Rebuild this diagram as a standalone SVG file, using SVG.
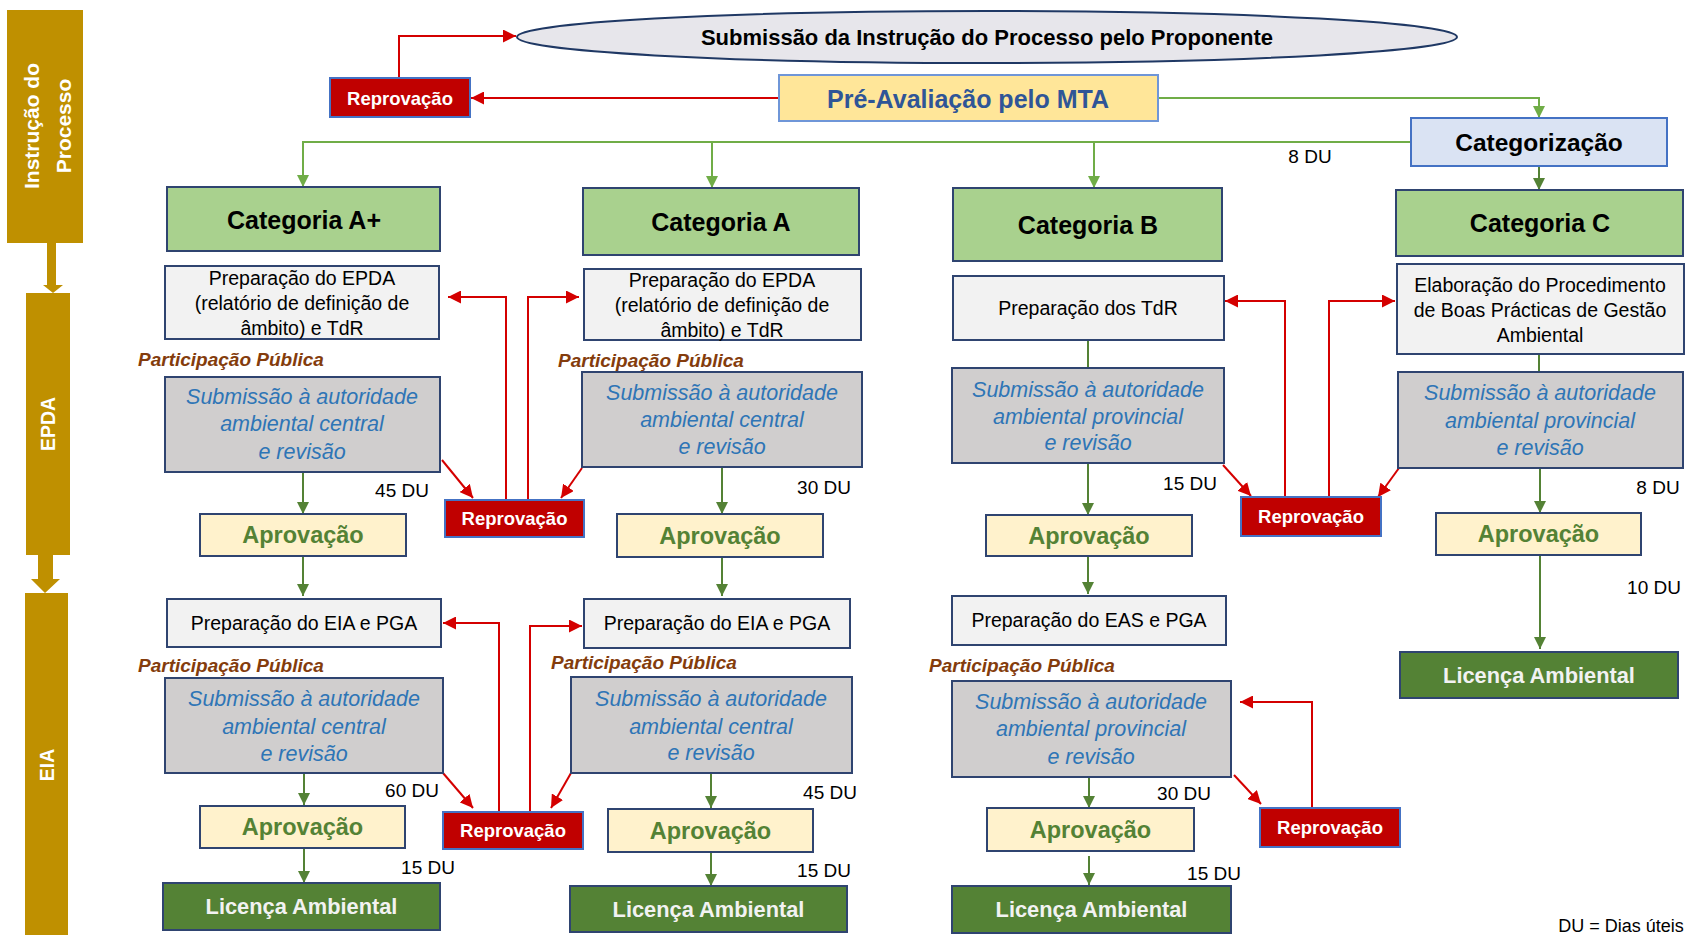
<svg xmlns="http://www.w3.org/2000/svg" width="1686" height="935" viewBox="0 0 1686 935">
<defs>
<style>
text{font-family:"Liberation Sans",Arial,sans-serif;text-anchor:middle;dominant-baseline:central}
.bar{fill:#bf9000}
.bart{fill:#fff;font-weight:bold}
.cat{fill:#a9d18e;stroke:#2f4470;stroke-width:2}
.catt{font-size:25px;font-weight:bold;fill:#000}
.prep{fill:#f2f2f2;stroke:#2f4470;stroke-width:2}
.prept{font-size:19.5px;fill:#000}
.sub{fill:#d0cece;stroke:#2f4470;stroke-width:2}
.subt{font-size:21.5px;font-style:italic;fill:#2e75b6}
.apr{fill:#fff2cc;stroke:#2f4470;stroke-width:2}
.aprt{font-size:23.5px;font-weight:bold;fill:#548235}
.rep{fill:#c00000;stroke:#4472c4;stroke-width:2}
.rept{font-size:18.5px;font-weight:bold;fill:#fff}
.lic{fill:#548235;stroke:#2f4470;stroke-width:2}
.lict{font-size:21.8px;font-weight:bold;fill:#f2f2f2}
.pp{font-size:19px;font-weight:bold;font-style:italic;fill:#843c0c;text-anchor:start}
.du{font-size:19px;fill:#000}
.g{fill:none;stroke:#548235;stroke-width:2}
.gl{fill:none;stroke:#70ad47;stroke-width:2}
.r{fill:none;stroke:#d40000;stroke-width:2}
</style>
<marker id="ag" viewBox="0 0 10 10" refX="10" refY="5" markerWidth="12" markerHeight="12" markerUnits="userSpaceOnUse" orient="auto"><path d="M0,0 L10,5 L0,10 z" fill="#548235"/></marker>
<marker id="agl" viewBox="0 0 10 10" refX="10" refY="5" markerWidth="12" markerHeight="12" markerUnits="userSpaceOnUse" orient="auto"><path d="M0,0 L10,5 L0,10 z" fill="#70ad47"/></marker>
<marker id="ar" viewBox="0 0 10 10" refX="10" refY="5" markerWidth="13" markerHeight="13" markerUnits="userSpaceOnUse" orient="auto"><path d="M0,0 L10,5 L0,10 z" fill="#d40000"/></marker>
</defs>
<rect width="1686" height="935" fill="#fff"/>

<g id="phase-bars">
<rect class="bar" x="7" y="10" width="76" height="233"/>
<text class="bart" font-size="21" transform="rotate(-90 46 126)"><tspan x="46" y="111">Instrução do</tspan><tspan x="46" y="143">Processo</tspan></text>
<polygon class="bar" points="47,243 56,243 56,285 63,285 53,293 43,285 47,285"/>
<rect class="bar" x="26" y="293" width="44" height="262"/>
<text class="bart" font-size="19.5" transform="rotate(-90 48 424)" x="48" y="424">EPDA</text>
<polygon class="bar" points="38,555 53,555 53,579 60,579 45,593 31,579 38,579"/>
<rect class="bar" x="25" y="593" width="43" height="342"/>
<text class="bart" font-size="19.5" transform="rotate(-90 46.5 765)" x="46.5" y="765">EIA</text>
</g>

<g id="connectors">
<path class="r" d="M399,78 V36 H516" marker-end="url(#ar)"/>
<path class="r" d="M779,98 H471" marker-end="url(#ar)"/>
<path class="gl" d="M1158,98 H1539 V118" marker-end="url(#agl)"/>
<path class="gl" d="M1411,142 H303 V187" marker-end="url(#agl)"/>
<path class="gl" d="M712,142 V188" marker-end="url(#agl)"/>
<path class="gl" d="M1094,142 V188" marker-end="url(#agl)"/>
<path class="g" d="M1539,166 V190" marker-end="url(#ag)"/>
<!-- EPDA column flows -->
<path class="g" d="M303,472 V514" marker-end="url(#ag)"/>
<path class="g" d="M722,467 V514" marker-end="url(#ag)"/>
<path class="g" d="M1088,340 V368"/>
<path class="g" d="M1088,463 V515" marker-end="url(#ag)"/>
<path class="g" d="M1539,354 V372"/>
<path class="g" d="M1540,468 V513" marker-end="url(#ag)"/>
<path class="g" d="M303,556 V596" marker-end="url(#ag)"/>
<path class="g" d="M722,557 V596" marker-end="url(#ag)"/>
<path class="g" d="M1088,556 V594" marker-end="url(#ag)"/>
<path class="g" d="M1540,555 V649" marker-end="url(#ag)"/>
<!-- EPDA rejections -->
<path class="r" d="M442,460 L473,498" marker-end="url(#ar)"/>
<path class="r" d="M582,468 L561,498" marker-end="url(#ar)"/>
<path class="r" d="M506,500 V297 H448" marker-end="url(#ar)"/>
<path class="r" d="M528,500 V297 H579" marker-end="url(#ar)"/>
<path class="r" d="M1223,465 L1251,496" marker-end="url(#ar)"/>
<path class="r" d="M1399,468 L1378,497" marker-end="url(#ar)"/>
<path class="r" d="M1285,497 V301 H1225" marker-end="url(#ar)"/>
<path class="r" d="M1329,497 V301 H1395" marker-end="url(#ar)"/>
<!-- EIA column flows -->
<path class="g" d="M304,773 V805" marker-end="url(#ag)"/>
<path class="g" d="M711,773 V808" marker-end="url(#ag)"/>
<path class="g" d="M1089,777 V808" marker-end="url(#ag)"/>
<path class="g" d="M304,848 V883" marker-end="url(#ag)"/>
<path class="g" d="M711,852 V886" marker-end="url(#ag)"/>
<path class="g" d="M1089,856 V885" marker-end="url(#ag)"/>
<!-- EIA rejections -->
<path class="r" d="M443,773 L473,808" marker-end="url(#ar)"/>
<path class="r" d="M571,773 L551,808" marker-end="url(#ar)"/>
<path class="r" d="M499,812 V623 H443" marker-end="url(#ar)"/>
<path class="r" d="M530,812 V626 H582" marker-end="url(#ar)"/>
<path class="r" d="M1234,775 L1261,804" marker-end="url(#ar)"/>
<path class="r" d="M1312,808 V702 H1240" marker-end="url(#ar)"/>
</g>

<g id="submissao">
<ellipse cx="987" cy="37" rx="470" ry="26" fill="#e7e6eb" stroke="#1f3864" stroke-width="2"/>
<text x="987" y="37" font-size="22" font-weight="bold">Submissão da Instrução do Processo pelo Proponente</text>
</g>
<g id="reprovacao-top"><rect class="rep" x="330" y="78" width="140" height="39"/><text class="rept" x="400" y="98">Reprovação</text></g>
<g id="pre-avaliacao"><rect x="779" y="75" width="379" height="46" fill="#ffe699" stroke="#6f96d8" stroke-width="2"/><text x="968" y="99" font-size="25" font-weight="bold" fill="#2f5597">Pré-Avaliação pelo MTA</text></g>
<g id="categorizacao"><rect x="1411" y="118" width="256" height="48" fill="#dae3f3" stroke="#4472c4" stroke-width="2"/><text x="1539" y="142" font-size="24.5" font-weight="bold" fill="#000">Categorização</text></g>
<text class="du" x="1310" y="156">8 DU</text>

<g id="cat-aplus"><rect class="cat" x="167" y="187" width="273" height="64"/><text class="catt" x="304" y="220">Categoria A+</text></g>
<g id="cat-a"><rect class="cat" x="583" y="188" width="276" height="67"/><text class="catt" x="721" y="222">Categoria A</text></g>
<g id="cat-b"><rect class="cat" x="953" y="188" width="269" height="73"/><text class="catt" x="1088" y="225">Categoria B</text></g>
<g id="cat-c"><rect class="cat" x="1396" y="190" width="287" height="66"/><text class="catt" x="1540" y="223">Categoria C</text></g>

<g id="prep-epda-aplus"><rect class="prep" x="165" y="266" width="274" height="73"/><text class="prept"><tspan x="302" y="278">Preparação do EPDA</tspan><tspan x="302" y="303">(relatório de definição de</tspan><tspan x="302" y="328">âmbito) e TdR</tspan></text></g>
<g id="prep-epda-a"><rect class="prep" x="584" y="269" width="277" height="71"/><text class="prept"><tspan x="722" y="280">Preparação do EPDA</tspan><tspan x="722" y="305">(relatório de definição de</tspan><tspan x="722" y="330">âmbito) e TdR</tspan></text></g>
<g id="prep-tdr-b"><rect class="prep" x="953" y="276" width="271" height="64"/><text class="prept" x="1088" y="308">Preparação dos TdR</text></g>
<g id="prep-c"><rect class="prep" x="1397" y="264" width="287" height="90"/><text class="prept"><tspan x="1540" y="285">Elaboração do Procedimento</tspan><tspan x="1540" y="310">de Boas Prácticas de Gestão</tspan><tspan x="1540" y="335">Ambiental</tspan></text></g>

<text class="pp" x="138" y="359">Participação Pública</text>
<text class="pp" x="558" y="360">Participação Pública</text>

<g id="sub-epda-aplus"><rect class="sub" x="165" y="377" width="275" height="95"/><text class="subt"><tspan x="302" y="397">Submissão à autoridade</tspan><tspan x="302" y="424">ambiental central</tspan><tspan x="302" y="452">e revisão</tspan></text></g>
<g id="sub-epda-a"><rect class="sub" x="582" y="372" width="280" height="95"/><text class="subt"><tspan x="722" y="393">Submissão à autoridade</tspan><tspan x="722" y="420">ambiental central</tspan><tspan x="722" y="447">e revisão</tspan></text></g>
<g id="sub-epda-b"><rect class="sub" x="952" y="368" width="272" height="95"/><text class="subt"><tspan x="1088" y="390">Submissão à autoridade</tspan><tspan x="1088" y="417">ambiental provincial</tspan><tspan x="1088" y="443">e revisão</tspan></text></g>
<g id="sub-c"><rect class="sub" x="1398" y="372" width="285" height="96"/><text class="subt"><tspan x="1540" y="393">Submissão à autoridade</tspan><tspan x="1540" y="421">ambiental provincial</tspan><tspan x="1540" y="448">e revisão</tspan></text></g>

<text class="du" x="402" y="490">45 DU</text>
<text class="du" x="824" y="487">30 DU</text>
<text class="du" x="1190" y="483">15 DU</text>
<text class="du" x="1658" y="487">8 DU</text>
<text class="du" x="1654" y="587">10 DU</text>

<g id="apr-epda-aplus"><rect class="apr" x="200" y="514" width="206" height="42"/><text class="aprt" x="303" y="535">Aprovação</text></g>
<g id="apr-epda-a"><rect class="apr" x="617" y="514" width="206" height="43"/><text class="aprt" x="720" y="535.5">Aprovação</text></g>
<g id="apr-epda-b"><rect class="apr" x="986" y="515" width="206" height="41"/><text class="aprt" x="1089" y="535.5">Aprovação</text></g>
<g id="apr-c"><rect class="apr" x="1436" y="513" width="205" height="42"/><text class="aprt" x="1538.5" y="534">Aprovação</text></g>

<g id="rep-epda-1"><rect class="rep" x="445" y="500" width="139" height="37"/><text class="rept" x="514.5" y="518.5">Reprovação</text></g>
<g id="rep-epda-2"><rect class="rep" x="1241" y="497" width="140" height="39"/><text class="rept" x="1311" y="516.5">Reprovação</text></g>

<g id="lic-c"><rect class="lic" x="1400" y="652" width="278" height="46"/><text class="lict" x="1539" y="675">Licença Ambiental</text></g>

<g id="prep-eia-aplus"><rect class="prep" x="167" y="599" width="274" height="48"/><text class="prept" x="304" y="623">Preparação do EIA e PGA</text></g>
<g id="prep-eia-a"><rect class="prep" x="584" y="599" width="266" height="49"/><text class="prept" x="717" y="623">Preparação do EIA e PGA</text></g>
<g id="prep-eas-b"><rect class="prep" x="952" y="596" width="274" height="49"/><text class="prept" x="1089" y="620">Preparação do EAS e PGA</text></g>

<text class="pp" x="138" y="665">Participação Pública</text>
<text class="pp" x="551" y="662">Participação Pública</text>
<text class="pp" x="929" y="665">Participação Pública</text>

<g id="sub-eia-aplus"><rect class="sub" x="165" y="678" width="278" height="95"/><text class="subt"><tspan x="304" y="699">Submissão à autoridade</tspan><tspan x="304" y="727">ambiental central</tspan><tspan x="304" y="754">e revisão</tspan></text></g>
<g id="sub-eia-a"><rect class="sub" x="571" y="677" width="281" height="96"/><text class="subt"><tspan x="711" y="699">Submissão à autoridade</tspan><tspan x="711" y="727">ambiental central</tspan><tspan x="711" y="753">e revisão</tspan></text></g>
<g id="sub-eas-b"><rect class="sub" x="952" y="681" width="279" height="96"/><text class="subt"><tspan x="1091" y="702">Submissão à autoridade</tspan><tspan x="1091" y="729">ambiental provincial</tspan><tspan x="1091" y="757">e revisão</tspan></text></g>

<text class="du" x="412" y="790">60 DU</text>
<text class="du" x="830" y="792">45 DU</text>
<text class="du" x="1184" y="793">30 DU</text>

<g id="apr-eia-aplus"><rect class="apr" x="200" y="806" width="205" height="42"/><text class="aprt" x="302.5" y="827">Aprovação</text></g>
<g id="apr-eia-a"><rect class="apr" x="608" y="809" width="205" height="43"/><text class="aprt" x="710.5" y="830.5">Aprovação</text></g>
<g id="apr-eas-b"><rect class="apr" x="987" y="808" width="207" height="43"/><text class="aprt" x="1090.5" y="829.5">Aprovação</text></g>

<g id="rep-eia-1"><rect class="rep" x="443" y="812" width="140" height="37"/><text class="rept" x="513" y="830.5">Reprovação</text></g>
<g id="rep-eia-2"><rect class="rep" x="1260" y="808" width="140" height="39"/><text class="rept" x="1330" y="827.5">Reprovação</text></g>

<text class="du" x="428" y="867">15 DU</text>
<text class="du" x="824" y="870">15 DU</text>
<text class="du" x="1214" y="873">15 DU</text>

<g id="lic-aplus"><rect class="lic" x="163" y="883" width="277" height="47"/><text class="lict" x="301.5" y="906.5">Licença Ambiental</text></g>
<g id="lic-a"><rect class="lic" x="570" y="886" width="277" height="46"/><text class="lict" x="708.5" y="909">Licença Ambiental</text></g>
<g id="lic-b"><rect class="lic" x="952" y="886" width="279" height="47"/><text class="lict" x="1091.5" y="909.5">Licença Ambiental</text></g>

<text x="1621" y="926" font-size="18" fill="#000">DU = Dias úteis</text>
</svg>
